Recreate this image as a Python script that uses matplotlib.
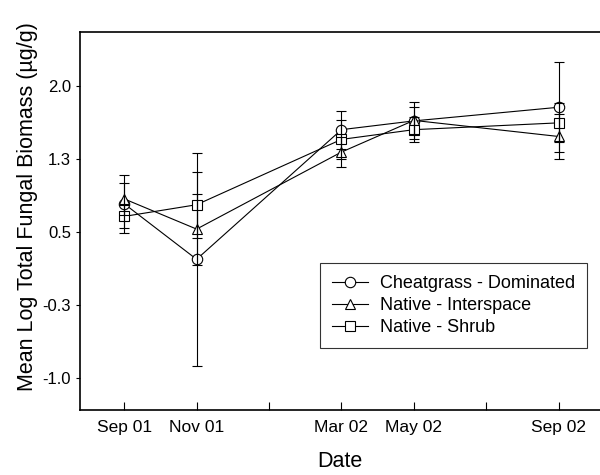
import matplotlib
matplotlib.use("Agg")
import matplotlib.pyplot as plt

plt.rcParams['font.family'] = ['Liberation Sans', 'DejaVu Sans']

# months since Sep 01
months = [0, 2, 6, 8, 12]
tick_pos = [0, 2, 4, 6, 8, 10, 12]
tick_labels = ['Sep 01', 'Nov 01', '', 'Mar 02', 'May 02', '', 'Sep 02']

cheat = [0.79, 0.22, 1.55, 1.64, 1.78]
cheat_err = [0.30, 1.09, 0.195, 0.19, 0.46]
inter = [0.84, 0.53, 1.32, 1.645, 1.48]
inter_err = [0.165, 0.365, 0.155, 0.14, 0.23]
shrub = [0.66, 0.78, 1.45, 1.55, 1.62]
shrub_err = [0.12, 0.34, 0.20, 0.13, 0.20]

yticks = [-1.0, -0.25, 0.5, 1.25, 2.0]
ytick_labels = ['-1.0', '-0.3', '0.5', '1.3', '2.0']

fig = plt.figure(figsize=(6, 4.75), dpi=100)
ax = fig.add_axes([80/600, 1 - 410/475, 1 - 80/600, (410 - 32)/475])

series = [
    (cheat, cheat_err, 'o', 'Cheatgrass - Dominated'),
    (inter, inter_err, '^', 'Native - Interspace'),
    (shrub, shrub_err, 's', 'Native - Shrub'),
]
for vals, errs, mk, lab in series:
    ax.plot(months, vals, color='black', lw=0.8, marker=mk, ms=7.5,
            mfc='white', mec='black', mew=0.8, label=lab, zorder=2)
    ax.errorbar(months, vals, yerr=errs, fmt='none', ecolor='black',
                elinewidth=0.8, capsize=3.5, capthick=0.8, zorder=3)

ax.set_xlim(-1.22, 13.14)
ax.set_ylim(-1.326, 2.552)
ax.set_xticks(tick_pos)
ax.set_xticklabels(tick_labels, fontsize=12.5)
ax.set_yticks(yticks)
ax.set_yticklabels(ytick_labels, fontsize=12)
ax.tick_params(axis='x', direction='in', length=6, width=0.8, pad=7)
ax.tick_params(axis='y', direction='out', length=3, width=0.8, pad=3.5)
ax.spines['right'].set_visible(False)
for s in ['left', 'bottom', 'top']:
    ax.spines[s].set_linewidth(1.2)

ax.set_xlabel('Date', fontsize=15.5)
ax.xaxis.set_label_coords(0.5, -0.108)
ax.set_ylabel('Mean Log Total Fungal Biomass (µg/g)', fontsize=15.5)
ax.yaxis.set_label_coords(-0.08, 0.537)

leg = ax.legend(loc='upper left', bbox_to_anchor=(0.4615, 0.388),
                borderaxespad=0, fontsize=13, fancybox=False,
                edgecolor='black', handlelength=2.0, labelspacing=0.28,
                borderpad=0.65, handletextpad=0.66)
leg.get_frame().set_linewidth(0.8)

fig.savefig('out.png', dpi=100)
